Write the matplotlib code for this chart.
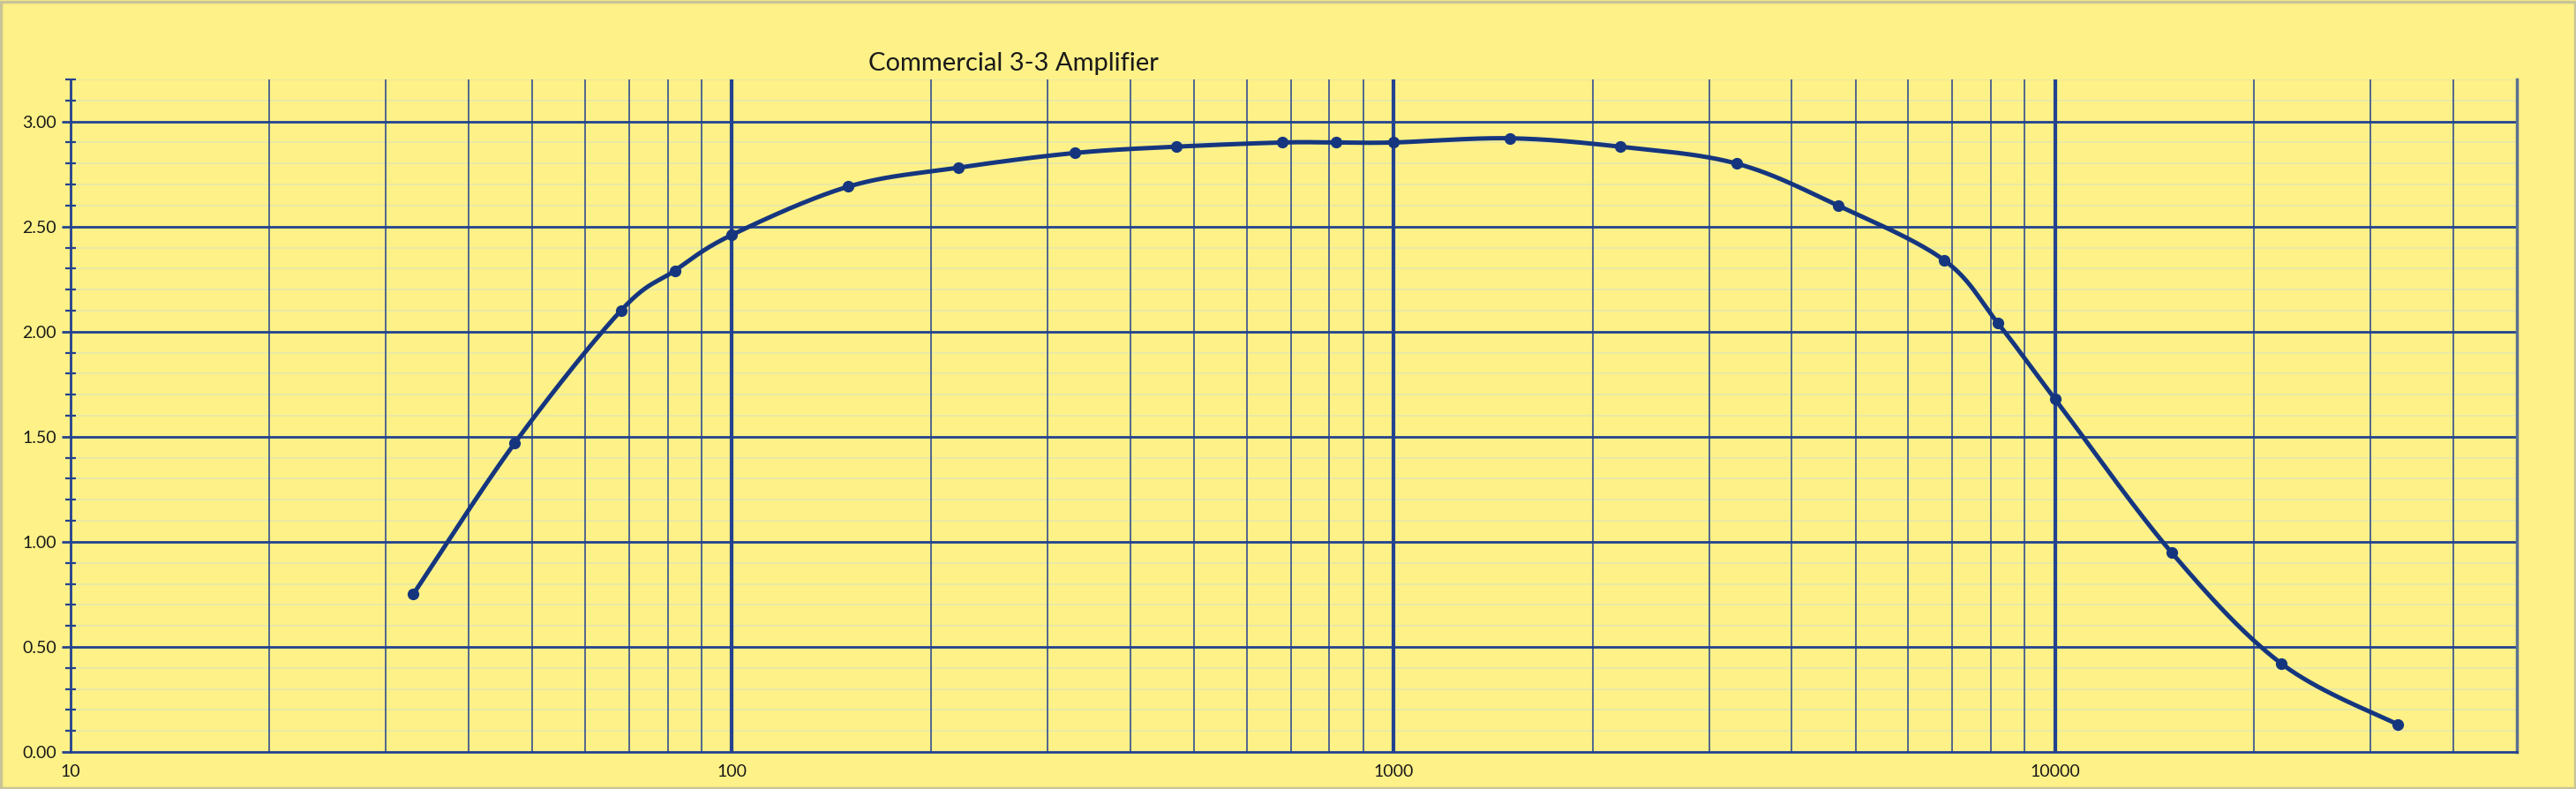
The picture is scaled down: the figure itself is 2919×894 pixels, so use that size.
import numpy as np
import matplotlib
matplotlib.use("Agg")
import matplotlib.pyplot as plt
from matplotlib.patches import Rectangle
from matplotlib.ticker import FixedLocator, FixedFormatter, NullFormatter, NullLocator

# ---- data ----
freq_hz = [33, 47, 68, 82, 100, 150, 220, 330, 470, 680, 820, 1000,
           1500, 2200, 3300, 4700, 6800, 8200, 10000, 15000, 22000, 33000]
output_v = [0.75, 1.47, 2.10, 2.29, 2.46, 2.69, 2.78, 2.85, 2.88, 2.90, 2.90, 2.90,
            2.92, 2.88, 2.80, 2.60, 2.34, 2.04, 1.68, 0.95, 0.42, 0.13]
title = "Commercial 3-3 Amplifier"
x_tick_values = [10, 100, 1000, 10000]
x_tick_labels = ["10", "100", "1000", "10000"]
y_major_values = [0.0, 0.5, 1.0, 1.5, 2.0, 2.5, 3.0]
y_major_labels = ["0.00", "0.50", "1.00", "1.50", "2.00", "2.50", "3.00"]

BG = "#FDF187"
GRID = "#23428F"
LINE = "#15367F"
MINOR_H = "#E9E9A6"
plt.rcParams['font.family'] = ['Lato', 'DejaVu Sans']

fig = plt.figure(figsize=(29.19, 8.94), dpi=100, facecolor=BG)
ax = fig.add_axes([79.5 / 2919, 1 - 852 / 894, (2852.5 - 79.5) / 2919, (852 - 90) / 894])
ax.set_facecolor(BG)
ax.set_xscale("log")
ax.set_xlim(10, 50000)
ax.set_ylim(0, 3.2)

# minor horizontal grid (0.1 steps)
for yv in np.arange(1, 33) / 10.0:
    if round(yv * 10) % 5 != 0:
        ax.axhline(yv, color=MINOR_H, lw=1.4, zorder=1)
# major horizontal grid
for yv in y_major_values[1:]:
    ax.axhline(yv, color=GRID, lw=2.0, zorder=2)
# vertical grid lines
for dec in [10, 100, 1000, 10000]:
    for m in range(1, 10):
        xv = dec * m
        if xv <= 10 or xv >= 50000:
            continue
        if m == 1:
            ax.axvline(xv, color=GRID, lw=3.0, zorder=2)
        else:
            ax.axvline(xv, color=GRID, lw=1.1, zorder=2)

# smoothed curve (Catmull-Rom / Bezier in log-x space)
lx = np.log10(np.array(freq_hz, dtype=float))
yy = np.array(output_v, dtype=float)
n = len(lx)
px, py = [], []
t = np.linspace(0, 1, 40)
for i in range(n - 1):
    p0 = np.array([lx[max(i - 1, 0)], yy[max(i - 1, 0)]])
    p1 = np.array([lx[i], yy[i]])
    p2 = np.array([lx[i + 1], yy[i + 1]])
    p3 = np.array([lx[min(i + 2, n - 1)], yy[min(i + 2, n - 1)]])
    c1 = p1 + (p2 - p0) / 6.0
    c2 = p2 - (p3 - p1) / 6.0
    for tt in t:
        b = ((1 - tt) ** 3) * p1 + 3 * ((1 - tt) ** 2) * tt * c1 + 3 * (1 - tt) * tt ** 2 * c2 + tt ** 3 * p2
        px.append(10 ** b[0])
        py.append(b[1])
ax.plot(px, py, color=LINE, lw=3.6, zorder=4, solid_capstyle="round")
ax.plot(freq_hz, output_v, "o", color=LINE, ms=8.5, zorder=5)

# spines
ax.spines["top"].set_visible(False)
ax.spines["left"].set_color(GRID)
ax.spines["left"].set_linewidth(2.0)
ax.spines["bottom"].set_color(GRID)
ax.spines["bottom"].set_linewidth(2.0)
ax.spines["right"].set_color("#5B7192")
ax.spines["right"].set_linewidth(2.5)
for s in ax.spines.values():
    s.set_zorder(3)

# ticks
ax.yaxis.set_major_locator(FixedLocator(y_major_values))
ax.yaxis.set_major_formatter(FixedFormatter(y_major_labels))
ax.yaxis.set_minor_locator(FixedLocator([v / 10 for v in range(1, 33) if v % 5 != 0]))
ax.yaxis.set_minor_formatter(NullFormatter())
ax.tick_params(axis="y", which="major", direction="out", length=7, width=2, color=GRID,
               labelsize=14, labelcolor="#1a1a1a", pad=4)
ax.tick_params(axis="y", which="minor", direction="inout", length=8, width=1.6, color=GRID)
ax.xaxis.set_major_locator(FixedLocator(x_tick_values))
ax.xaxis.set_major_formatter(FixedFormatter(x_tick_labels))
ax.xaxis.set_minor_locator(NullLocator())
ax.tick_params(axis="x", which="major", length=0, labelsize=14, labelcolor="#1a1a1a", pad=10)

fig.text(1148 / 2919, 1 - 72 / 894, title, ha="center", va="center", fontsize=21, color="#1a1a1a")

# figure border
fig.patches.append(Rectangle((0.0005, 0.001), 0.999, 0.997, transform=fig.transFigure,
                             fill=False, edgecolor="#C9C497", lw=2.5))

fig.savefig("out.png", dpi=100, facecolor=BG)
